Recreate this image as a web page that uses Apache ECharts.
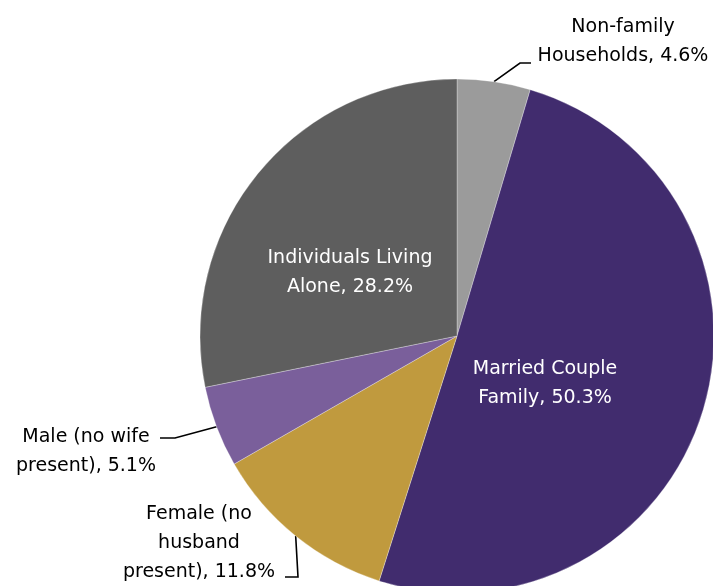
<!DOCTYPE html>
<html>
<head>
<meta charset="utf-8">
<script src="https://cdn.jsdelivr.net/npm/echarts@6/dist/echarts.min.js"></script>
<style>html,body{margin:0;padding:0;background:#fff}#c{width:713px;height:586px}</style>
</head>
<body>
<div id="c"></div>
<script>
const categories = ['Non-family\nHouseholds', 'Married Couple\nFamily', 'Female (no\nhusband\npresent)', 'Male (no wife\npresent)', 'Individuals Living\nAlone'];
const values = [4.6, 50.3, 11.8, 5.1, 28.2];
const colors = ['#9b9b9b', '#412c6e', '#c09a3e', '#7a5f9b', '#5e5e5e'];

const chart = echarts.init(document.getElementById('c'));
const FONT = "'Comic Sans MS', 'DejaVu Sans', sans-serif";
const insideIdx = [1, 4];

const labelPlace = {
  0: {x: 623, y: 42, line: (p) => [p, [520, 63], [531, 63]]},
  1: {x: 545, y: 384},
  2: {x: 199, y: 543, line: (p) => [p, [298, 577], [285, 577]]},
  3: {x: 86, y: 452, line: (p) => [p, [175, 438], [160, 438]]},
  4: {x: 350, y: 273}
};

chart.setOption({
  animation: false,
  series: [{
    type: 'pie',
    center: [457, 336],
    radius: 257,
    startAngle: 90,
    clockwise: true,
    avoidLabelOverlap: false,
    itemStyle: {borderColor: '#ffffff', borderWidth: 0.3},
    label: {
      show: true,
      position: 'outside',
      fontFamily: FONT,
      fontSize: 19,
      lineHeight: 29,
      color: '#000',
      align: 'center',
      formatter: (p) => p.name + ', ' + p.value.toFixed(1) + '%'
    },
    labelLine: {show: true, lineStyle: {color: '#000', width: 1.6}, length: 10, length2: 10},
    labelLayout: function (params) {
      const pl = labelPlace[params.dataIndex];
      const r = {x: pl.x, y: pl.y, align: 'center', verticalAlign: 'middle'};
      if (pl.line && params.labelLinePoints) {
        r.labelLinePoints = pl.line(params.labelLinePoints[0]);
      }
      return r;
    },
    data: categories.map((c, i) => ({
      name: c,
      value: values[i],
      itemStyle: {color: colors[i]},
      label: insideIdx.includes(i) ? {position: 'inside', color: '#fff'} : {},
      labelLine: insideIdx.includes(i) ? {show: false} : {}
    }))
  }]
});
</script>
</body>
</html>
